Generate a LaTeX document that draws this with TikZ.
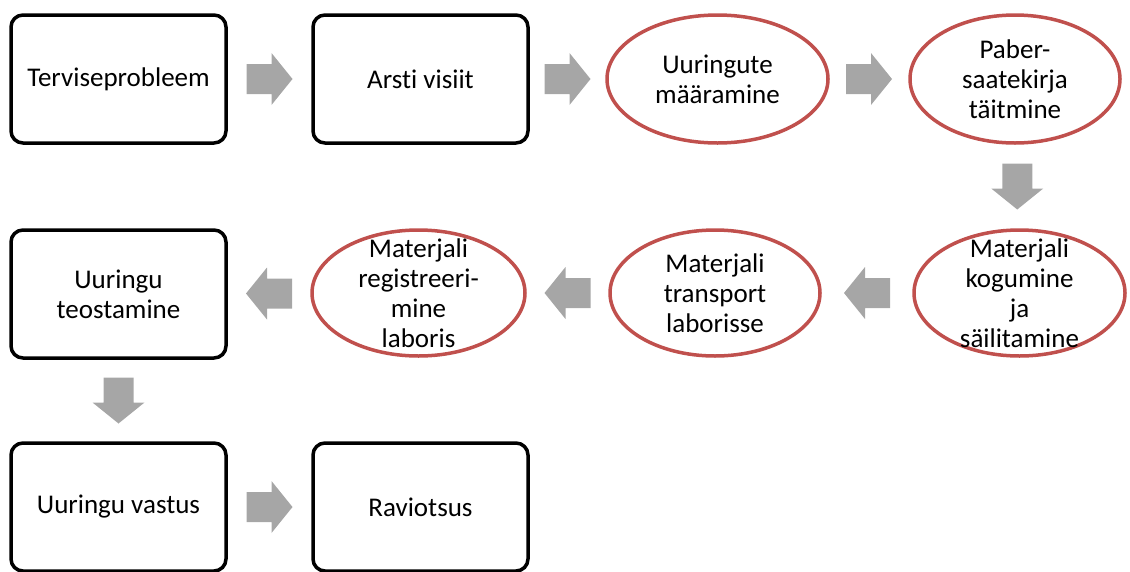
\documentclass[tikz,border=0pt]{standalone}
\usepackage{fontspec}
\setmainfont{Carlito}[Ligatures=NoCommon]
\usetikzlibrary{shapes.geometric,calc}
\definecolor{ovalred}{HTML}{C0504D}
\definecolor{flowgrey}{HTML}{A6A6A6}
\tikzset{
  labelfont/.style={font=\fontsize{27}{30}\selectfont},
  stepbox/.style={draw=black, line width=3.5pt, rounded corners=12pt,
    minimum width=215pt, minimum height=128pt, inner sep=0pt,
    align=center, labelfont},
  stepoval/.style={draw=ovalred, line width=3.5pt, ellipse, inner sep=0pt},
  ovaltext/.style={align=center, inner sep=0pt, labelfont},
  blockarr/.pic={\fill[flowgrey] (-23,-15) -- (2,-15) -- (2,-26) -- (23,0)
      -- (2,26) -- (2,15) -- (-23,15) -- cycle;}
}
\begin{document}
\begin{tikzpicture}[x=1pt,y=-1pt]
\useasboundingbox (0,0) rectangle (1130,571);

% first row
\node[stepbox] (b1) at (118.5,79) {Terviseprobleem};
\node[stepbox] (b2) at (420.5,79) {Arsti visiit};
\node[stepoval, minimum width=221pt, minimum height=128pt] (e1) at (717.5,79) {};
\node[ovaltext] at (e1) {Uuringute\\määramine};
\node[stepoval, minimum width=210pt, minimum height=128pt] (e2) at (1015,79) {};
\node[ovaltext] at (e2) {Paber-\\saatekirja\\täitmine};

% second row
\node[stepoval, minimum width=211pt, minimum height=126pt] (e5) at (1019.5,293) {};
\node[ovaltext] at (e5) {Materjali\\kogumine\\ja\\säilitamine};
\node[stepoval, minimum width=210pt, minimum height=126pt] (e4) at (715,293) {};
\node[ovaltext] at (e4) {Materjali\\transport\\laborisse};
\node[stepoval, minimum width=213pt, minimum height=126pt] (e3) at (418.5,293) {};
\node[ovaltext] at (e3) {Materjali\\registreeri-\\mine\\laboris};
\node[stepbox] (b3) at (118.5,294) {Uuringu\\teostamine};

% third row
\node[stepbox] (b4) at (118.5,507) {Uuringu vastus};
\node[stepbox] (b5) at (420.5,507) {Raviotsus};

% block arrows between the steps
\pic at ($(b1.east)!0.5!(b2.west)$) {blockarr};
\pic at ($(b2.east)!0.5!(e1.west)$) {blockarr};
\pic at ($(e1.east)!0.5!(e2.west)$) {blockarr};
\pic[rotate=-90] at ($(e2.south)!0.5!(e5.north)$) {blockarr};
\pic[rotate=180] at ($(e5.west)!0.5!(e4.east)$) {blockarr};
\pic[rotate=180] at ($(e4.west)!0.5!(e3.east)$) {blockarr};
\pic[rotate=180] at ($(e3.west)!0.5!(b3.east)$) {blockarr};
\pic[rotate=-90] at ($(b3.south)!0.5!(b4.north)$) {blockarr};
\pic at ($(b4.east)!0.5!(b5.west)$) {blockarr};
\end{tikzpicture}
\end{document}
